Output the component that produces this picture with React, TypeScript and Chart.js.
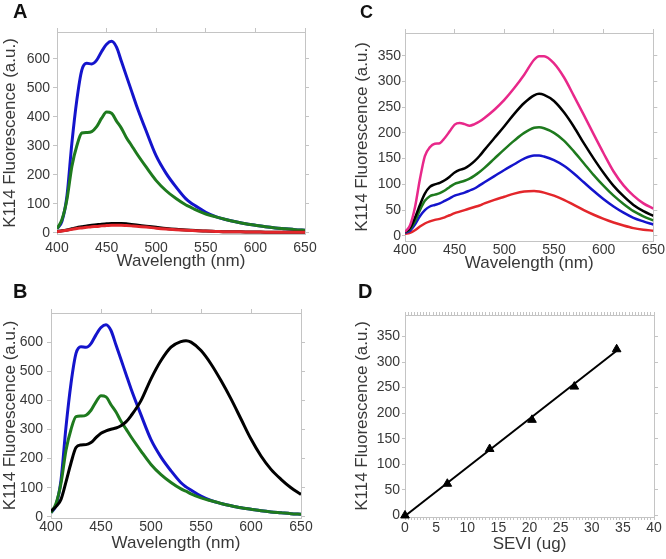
import React, { useEffect, useRef } from "react";
import { Chart, registerables } from "chart.js";

Chart.register(...registerables);

const FONT = "'Liberation Sans', Arial, Helvetica, sans-serif";
const TEXT = "#383838";
const FRAME = "#c4c4c4";
const BLUE = "#1414cc";
const GREEN = "#1e7a1e";
const RED = "#e3262b";
const PINK = "#e8288a";
const BLACK = "#000000";

// ---- data ----
const WAVELENGTH = [400, 405, 410, 415, 420, 425, 430, 435, 440, 445, 450, 455, 460, 465, 470, 475, 480, 490, 500, 510, 520, 530, 535, 540, 550, 560, 570, 580, 590, 600, 610, 620, 630, 640, 650];

// Panel A (and B) spectra
const A_BLUE = [14, 40, 126, 309, 458, 561, 584, 582, 595, 625, 650, 660, 640, 590, 540, 490, 440, 350, 265, 205, 158, 117, 103, 92, 71, 56, 46, 38, 31, 26, 21, 17, 14, 11, 9];
const A_GREEN = [14, 46, 115, 229, 300, 344, 346, 349, 366, 395, 416, 412, 385, 360, 328, 302, 275, 226, 180, 145, 118, 96, 88, 79, 65, 55, 46, 38, 31, 26, 21, 17, 14, 11, 9];
const A_BLACK = [5, 7, 10, 14, 18, 21, 24, 26, 28, 30, 31, 32, 32, 32, 31, 29, 27, 23, 19, 15, 12, 10, 9, 8, 6, 5, 4, 4, 3, 3, 2, 2, 2, 2, 2];
const A_RED = [4, 6, 9, 12, 15, 17, 19, 21, 22, 24, 25, 26, 26, 26, 25, 24, 23, 20, 16, 13, 11, 9, 8, 7, 6, 5, 4, 4, 3, 3, 2, 2, 2, 2, 2];

// Panel B extra spectrum
const B_BLACK = [20, 35, 60, 120, 185, 238, 247, 248, 255, 272, 287, 295, 301, 305, 313, 326, 347, 399, 474, 537, 583, 602, 605, 600, 571, 525, 468, 405, 336, 267, 209, 163, 129, 100, 77];

// Panel C spectra
const C_PINK = [8, 20, 55, 110, 155, 172, 179, 180, 190, 203, 216, 219, 217, 214, 217, 222, 229, 245, 264, 287, 313, 342, 349, 349, 335, 308, 272, 235, 197, 160, 125, 98, 78, 63, 53];
const C_BLACK = [8, 15, 35, 60, 82, 95, 100, 103, 108, 115, 123, 128, 131, 137, 145, 155, 167, 190, 213, 237, 258, 273, 276, 274, 262, 240, 212, 180, 150, 122, 97, 77, 60, 48, 39];
const C_GREEN = [7, 13, 28, 50, 68, 77, 80, 83, 88, 95, 101, 104, 107, 111, 117, 124, 132, 150, 168, 185, 200, 210, 211, 209, 200, 185, 164, 141, 118, 97, 78, 62, 48, 38, 30];
const C_BLUE = [6, 10, 22, 38, 50, 57, 60, 63, 68, 73, 78, 81, 84, 88, 92, 98, 104, 116, 128, 139, 150, 156, 156, 154, 147, 136, 121, 104, 87, 71, 57, 45, 35, 28, 22];
const C_RED = [4, 6, 11, 18, 24, 28, 31, 33, 36, 40, 44, 47, 50, 53, 56, 59, 63, 70, 76, 82, 86, 87, 86, 84, 78, 70, 60, 50, 41, 33, 26, 20, 15, 12, 10];

// Panel D
const SEVI = [0, 6.8, 13.6, 20.4, 27.2, 34];
const D_FLUOR = [0, 62, 130, 187, 252, 325];
const FIT_X = [0, 34];
const FIT_Y = [-1, 322];

// tick labels
const WL_TICKS = [400, 450, 500, 550, 600, 650];
const AB_Y_TICKS = [0, 100, 200, 300, 400, 500, 600];
const CD_Y_TICKS = [0, 50, 100, 150, 200, 250, 300, 350];
const D_X_TICKS = [0, 5, 10, 15, 20, 25, 30, 35, 40];

const Y_TITLE = "K114 Fluorescence (a.u.)";

const pts = (xs: number[], ys: number[]) => xs.map((x, i) => ({ x, y: ys[i] }));

const spec = (ys: number[], color: string, width: number) => ({
  type: "line",
  data: pts(WAVELENGTH, ys),
  borderColor: color,
  backgroundColor: color,
  borderWidth: width,
  pointRadius: 0,
  cubicInterpolationMode: "monotone",
  fill: false,
  xAxisID: "x",
  yAxisID: "y",
});

type Area = { l: number; t: number; r: number; b: number };
type PanelDef = {
  letter: string;
  letterSize: number;
  letterLeft: number;
  letterTop: number;
  left: number;
  top: number;
  width: number;
  height: number;
  area: Area;
  xMin: number;
  xMax: number;
  yMin: number;
  yMax: number;
  xTicks: number[];
  yTicks: number[];
  minorStep?: number;
  xTitle: string;
  yTitlePad: number;
  yTickLen: number;
  yTickPad: number;
  xTickLen: number;
  xTickPad: number;
  xTitlePad: number;
  datasets: any[];
};

const PANELS: PanelDef[] = [
  {
    letter: "A", letterSize: 20, letterLeft: 13, letterTop: 1,
    left: 0, top: 0, width: 333, height: 280,
    area: { l: 57, t: 32, r: 305, b: 234 },
    xMin: 400, xMax: 650, yMin: -4, yMax: 692,
    xTicks: WL_TICKS, yTicks: AB_Y_TICKS,
    xTitle: "Wavelength (nm)",
    yTitlePad: 0, yTickLen: 4, yTickPad: 3, xTickLen: 0, xTickPad: 6, xTitlePad: 8,
    datasets: [spec(A_RED, RED, 3), spec(A_BLACK, BLACK, 3), spec(A_GREEN, GREEN, 3), spec(A_BLUE, BLUE, 3)],
  },
  {
    letter: "C", letterSize: 18, letterLeft: 360, letterTop: 3,
    left: 333, top: 0, width: 333, height: 280,
    area: { l: 72, t: 33, r: 322, b: 241 },
    xMin: 400, xMax: 650, yMin: -10, yMax: 394,
    xTicks: WL_TICKS, yTicks: CD_Y_TICKS,
    xTitle: "Wavelength (nm)",
    yTitlePad: 19, yTickLen: 3, yTickPad: 1, xTickLen: 0, xTickPad: 1, xTitlePad: 6,
    datasets: [spec(C_PINK, PINK, 2.5), spec(C_BLACK, BLACK, 2.5), spec(C_GREEN, GREEN, 2.5), spec(C_BLUE, BLUE, 2.5), spec(C_RED, RED, 2.5)],
  },
  {
    letter: "B", letterSize: 20, letterLeft: 13, letterTop: 281,
    left: 0, top: 280, width: 333, height: 279,
    area: { l: 51, t: 33, r: 301, b: 238 },
    xMin: 400, xMax: 650, yMin: -4, yMax: 700,
    xTicks: WL_TICKS, yTicks: AB_Y_TICKS,
    xTitle: "Wavelength (nm)",
    yTitlePad: 0, yTickLen: 4, yTickPad: 4, xTickLen: 0, xTickPad: 1, xTitlePad: 5,
    datasets: [spec(B_BLACK, BLACK, 3), spec(A_GREEN, GREEN, 3), spec(A_BLUE, BLUE, 3)],
  },
  {
    letter: "D", letterSize: 20, letterLeft: 358, letterTop: 281,
    left: 333, top: 280, width: 333, height: 279,
    area: { l: 72, t: 35, r: 321, b: 237 },
    xMin: 0, xMax: 40, yMin: -3, yMax: 392,
    xTicks: D_X_TICKS, yTicks: CD_Y_TICKS, minorStep: 0.5,
    xTitle: "SEVI (ug)",
    yTitlePad: 19, yTickLen: 3, yTickPad: 2, xTickLen: 3, xTickPad: 0, xTitlePad: 4,
    datasets: [
      {
        type: "scatter",
        data: pts(SEVI, D_FLUOR),
        pointStyle: "triangle",
        pointRadius: 5,
        backgroundColor: BLACK,
        borderColor: BLACK,
        borderWidth: 1,
        showLine: false,
        clip: false,
        xAxisID: "x",
        yAxisID: "y",
      },
      {
        type: "line",
        data: pts(FIT_X, FIT_Y),
        borderColor: BLACK,
        borderWidth: 2,
        pointRadius: 0,
        fill: false,
        xAxisID: "x",
        yAxisID: "y",
      },
    ],
  },
];

function buildConfig(p: PanelDef): any {
  const tickFont = { family: FONT, size: 14 };
  const titleFont = { family: FONT, size: 17 };
  const setTicks = (vals: number[]) => (s: any) => {
    s.ticks = vals.map((v) => ({ value: v }));
  };

  const xBottom: any = {
    type: "linear",
    axis: "x",
    position: "bottom",
    min: p.xMin,
    max: p.xMax,
    ticks: { font: tickFont, color: TEXT, padding: p.xTickPad, maxRotation: 0, autoSkip: false },
    grid: { drawOnChartArea: false, drawTicks: p.xTickLen > 0, tickLength: p.xTickLen, color: FRAME },
    border: { color: FRAME, width: 1 },
    title: { display: true, text: p.xTitle, font: titleFont, color: TEXT, padding: { top: 0, bottom: p.xTitlePad } },
    afterFit: (s: any) => {
      s.height = p.height - p.area.b;
    },
  };
  const xTop: any = {
    type: "linear",
    axis: "x",
    position: "top",
    min: p.xMin,
    max: p.xMax,
    ticks: { display: false },
    grid: { drawOnChartArea: false, drawTicks: true, tickLength: p.minorStep ? 3 : 4, color: FRAME },
    border: { color: FRAME, width: 1 },
    afterFit: (s: any) => {
      s.height = p.area.t;
    },
  };
  if (p.minorStep) {
    xBottom.ticks.stepSize = p.minorStep;
    xBottom.ticks.callback = (v: number) => (p.xTicks.includes(v) ? String(v) : "");
    xTop.ticks.stepSize = p.minorStep;
  } else {
    xBottom.afterBuildTicks = setTicks(p.xTicks);
    xTop.afterBuildTicks = setTicks(p.xTicks);
  }

  const yLeft: any = {
    type: "linear",
    axis: "y",
    position: "left",
    min: p.yMin,
    max: p.yMax,
    afterBuildTicks: setTicks(p.yTicks),
    ticks: { font: tickFont, color: TEXT, padding: p.yTickPad },
    grid: { drawOnChartArea: false, drawTicks: true, tickLength: p.yTickLen, color: FRAME },
    border: { color: FRAME, width: 1 },
    title: { display: true, text: Y_TITLE, font: titleFont, color: TEXT, padding: { top: p.yTitlePad, bottom: 0 } },
    afterFit: (s: any) => {
      s.width = p.area.l;
    },
  };
  const yRight: any = {
    type: "linear",
    axis: "y",
    position: "right",
    min: p.yMin,
    max: p.yMax,
    afterBuildTicks: setTicks(p.yTicks),
    ticks: { display: false },
    grid: { drawOnChartArea: false, drawTicks: true, tickLength: 4, color: FRAME },
    border: { color: FRAME, width: 1 },
    afterFit: (s: any) => {
      s.width = p.width - p.area.r;
    },
  };

  return {
    type: "line",
    data: { datasets: p.datasets },
    options: {
      responsive: false,
      maintainAspectRatio: false,
      animation: false,
      devicePixelRatio: 1,
      layout: { padding: 0 },
      plugins: { legend: { display: false }, tooltip: { enabled: false }, title: { display: false } },
      scales: { x: xBottom, y: yLeft, x2: xTop, y2: yRight },
    },
  };
}

function Panel({ def }: { def: PanelDef }) {
  const ref = useRef<HTMLCanvasElement | null>(null);
  useEffect(() => {
    if (!ref.current) return;
    const chart = new Chart(ref.current, buildConfig(def));
    return () => chart.destroy();
  }, [def]);
  return (
    <>
      <canvas
        ref={ref}
        width={def.width}
        height={def.height}
        style={{ position: "absolute", left: def.left, top: def.top, width: def.width, height: def.height }}
      />
      <div
        style={{
          position: "absolute",
          left: def.letterLeft,
          top: def.letterTop,
          fontFamily: FONT,
          fontWeight: "bold",
          fontSize: def.letterSize,
          lineHeight: `${def.letterSize}px`,
          color: "#111111",
        }}
      >
        {def.letter}
      </div>
    </>
  );
}

export default function App() {
  return (
    <div style={{ position: "absolute", left: 0, top: 0, width: 666, height: 559, background: "#ffffff", overflow: "hidden" }}>
      {PANELS.map((p) => (
        <Panel key={p.letter} def={p} />
      ))}
    </div>
  );
}
